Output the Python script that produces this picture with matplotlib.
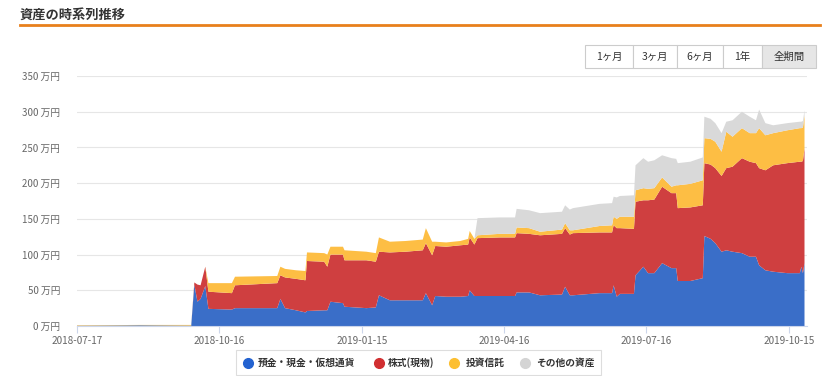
import matplotlib
matplotlib.use('Agg')
import matplotlib.pyplot as plt
import matplotlib.patches as patches
from matplotlib.lines import Line2D
import pandas as pd

plt.rcParams['font.family'] = ['Noto Sans CJK JP', 'DejaVu Sans']

# データ (万円) : 2018-07-17 からの日数
start = pd.Timestamp('2018-07-17')
days = [0, 40, 73, 75, 77, 79, 82, 84, 99, 101, 128, 130, 133, 140, 146, 147,
        158, 160, 162, 170, 171, 185, 191, 193, 200, 210, 221, 223, 227, 229,
        236, 245, 250, 251, 254, 256, 270, 280, 281, 289, 296, 310, 312, 315,
        317, 334, 342, 343, 345, 347, 356, 357, 362, 365, 369, 374, 380, 383,
        384, 392, 400, 401, 405, 408, 412, 415, 419, 425, 430, 434, 436, 440,
        445, 454, 462, 463, 464, 465]
deposit = [0.3, 1.0, 0.5, 58, 34, 38, 56, 24, 23, 25, 25, 38, 25, 22, 19, 21,
           22, 22, 34, 32, 27, 25, 26, 43, 36, 36, 36, 46, 29, 42,
           41, 41, 42, 50, 42, 42, 42, 42, 47, 47, 43, 44, 55, 43,
           43, 46, 46, 57, 41, 45, 45, 71, 83, 74, 74, 88, 81, 81,
           63, 63, 67, 126, 122, 116, 104, 106, 104, 102, 97, 97, 85, 78,
           76, 74, 74, 83, 74, 88]
stock = [0, 0, 0, 3, 24, 19, 27, 24, 23, 32, 35, 33, 43, 44, 45, 70,
         68, 61, 66, 68, 65, 67, 64, 61, 67, 68, 70, 70, 70, 70,
         70, 72, 72, 74, 72, 81, 82, 82, 83, 82, 84, 85, 82, 85,
         87, 85, 85, 84, 96, 92, 91, 103, 93, 102, 103, 107, 105, 105,
         102, 103, 102, 102, 104, 105, 106, 115, 119, 133, 133, 131, 136, 140,
         149, 154, 156, 147, 157, 161]
fund = [0.7, 0.5, 1.0, 0, 0, 0, 0, 12, 14, 12, 10, 12, 12, 12, 13, 12,
        12, 17, 11, 11, 14, 12, 12, 20, 15, 15, 15, 21, 19, 6,
        6, 6, 8, 9, 8, 4, 5, 5, 8, 8, 5, 6, 7, 6,
        4, 9, 10, 12, 13, 16, 17, 16, 17, 16, 16, 13, 9, 11,
        32, 33, 35, 35, 36, 37, 34, 51, 42, 42, 40, 42, 56, 49,
        45, 46, 47, 47, 47, 46]
other = [0, 0, 0, 0, 0, 0, 0, 0, 0, 0, 0, 0, 0, 0, 0, 0,
         0, 0, 0, 0, 0, 0, 0, 0, 0, 0, 0, 0, 0, 0,
         0, 0, 0, 0, 0, 24, 23, 23, 26, 25, 26, 25, 25, 29,
         31, 31, 31, 28, 30, 29, 30, 35, 42, 38, 39, 31, 40, 37,
         31, 31, 32, 30, 28, 26, 26, 14, 23, 23, 23, 18, 26, 17,
         11, 10, 9, 9, 9, 7]

series_names = ['預金・現金・仮想通貨', '株式(現物)', '投資信託', 'その他の資産']
area_colors = ['#3a6ec8', '#cf3f40', '#fdbe44', '#d9d9d9']
legend_colors = ['#2362d0', '#d12f31', '#fcbf31', '#d4d4d4']
tick_dates = ['2018-07-17', '2018-10-16', '2019-01-15', '2019-04-16', '2019-07-16', '2019-10-15']
y_ticks = [0, 50, 100, 150, 200, 250, 300, 350]
buttons = ['1ヶ月', '3ヶ月', '6ヶ月', '1年', '全期間']

W, H = 831, 376
dates = start + pd.to_timedelta(days, unit='D')


def fx(x):
    return x / W


def fy(y):
    return 1 - y / H


fig = plt.figure(figsize=(W / 100, H / 100), dpi=100)
ax = fig.add_axes([fx(77), fy(326), (807 - 77) / W, (326 - 76) / H])

ax.stackplot(dates, deposit, stock, fund, other, colors=area_colors, linewidth=0)

ax.set_xlim(start, start + pd.Timedelta(days=466.6))
ax.set_ylim(0, 350)
ax.set_yticks(y_ticks)
ax.set_yticklabels([f'{v} 万円' for v in y_ticks])
ax.set_xticks(pd.to_datetime(tick_dates))
ax.set_xticklabels(tick_dates)

for s in ['top', 'right', 'left']:
    ax.spines[s].set_visible(False)
ax.spines['bottom'].set_color('#ccd6eb')
ax.grid(axis='y', color='#e6e6e6', lw=0.8)
ax.set_axisbelow(True)
ax.tick_params(axis='y', length=0, pad=12, labelsize=7, labelcolor='#666666')
ax.tick_params(axis='x', length=5, color='#ccd6eb', pad=2, labelsize=7.2, labelcolor='#666666')

# タイトル
fig.text(fx(20), fy(15), '資産の時系列推移', fontsize=9.5, weight='bold', color='#333333', va='center')
fig.add_artist(Line2D([fx(20), fx(820)], [fy(25), fy(25)], color='#e8801c', lw=2))

# 期間ボタン
edges = [585, 632.7, 676.7, 723.3, 761.7, 816]
for i, label in enumerate(buttons):
    x0, x1 = edges[i], edges[i + 1]
    face = '#e6e6e6' if label == '全期間' else 'white'
    rect = patches.Rectangle((fx(x0), fy(68)), fx(x1 - x0), (68 - 45) / H, transform=fig.transFigure,
                             facecolor=face, edgecolor='#cccccc', lw=0.8)
    fig.add_artist(rect)
    fig.text(fx((x0 + x1) / 2), fy(56.5), label, fontsize=7.5, color='#333333', ha='center', va='center')

# 凡例
box = patches.Rectangle((fx(236), fy(375)), fx(601 - 236), (375 - 350) / H, transform=fig.transFigure,
                        facecolor='white', edgecolor='#dddddd', lw=0.8)
fig.add_artist(box)
marker_x = [248, 379, 454, 525]
text_x = [258, 388, 466, 536]
for name, c, mx, tx in zip(series_names, legend_colors, marker_x, text_x):
    fig.add_artist(Line2D([fx(mx)], [fy(363)], marker='o', markersize=7, color=c, lw=0,
                          transform=fig.transFigure))
    fig.text(fx(tx), fy(363), name, fontsize=7, weight='bold', color='#333333', va='center')

fig.savefig('out.png', dpi=100)
